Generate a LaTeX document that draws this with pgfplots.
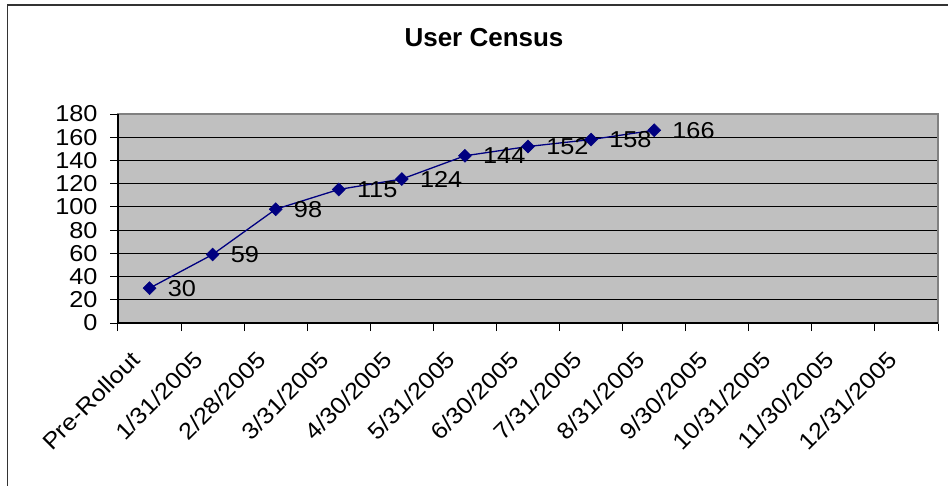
\documentclass[border=0pt]{standalone}
\usepackage{fontspec}
\setmainfont{Liberation Sans}[FakeStretch=1.1]
\newfontfamily\titlefont{Liberation Sans}
\usepackage{pgfplots}
\pgfplotsset{compat=1.18}
\definecolor{plotgray}{HTML}{C0C0C0}
\definecolor{bordergray}{HTML}{808080}
\definecolor{navyblue}{HTML}{000080}

\begin{document}
\begin{tikzpicture}
\useasboundingbox (0pt,0pt) rectangle (948pt,485pt);
\fill[white] (0pt,0pt) rectangle (948pt,485pt);
\draw[line width=1.5pt, black!80] (7.5pt,-5pt) -- (7.5pt,480pt) -- (960pt,480pt);
\node[font=\titlefont\bfseries\fontsize{26}{30}\selectfont] at (484pt,447pt) {User Census};
\begin{axis}[
  at={(118pt,162pt)}, anchor=south west,
  scale only axis, width=820pt, height=209pt,
  xmin=0, xmax=13, ymin=0, ymax=180,
  axis background/.style={fill=plotgray},
  axis line style={draw=bordergray, line width=1.5pt},
  ymajorgrids=true,
  major grid style={black, line width=0.8pt},
  tick align=outside,
  tick pos=left,
  major tick length=8pt,
  tick style={black, line width=1pt},
  xtick={0,1,...,13},
  xticklabels={,,,,,,,,,,,,,},
  ytick={0,20,...,180},
  /pgf/number format/assume math mode=true,
  tick label style={font=\fontsize{23}{27}\selectfont},
  yticklabel style={xshift=-9pt},
  extra x ticks={0.5,1.5,2.5,3.5,4.5,5.5,6.5,7.5,8.5,9.5,10.5,11.5,12.5},
  extra x tick labels={Pre-Rollout,1/31/2005,2/28/2005,3/31/2005,4/30/2005,5/31/2005,6/30/2005,7/31/2005,8/31/2005,9/30/2005,10/31/2005,11/30/2005,12/31/2005},
  extra x tick style={major tick length=0pt, grid=none,
    tick label style={rotate=45, anchor=north east, inner sep=0pt, xshift=-33pt, yshift=-5pt}},
  clip=false,
]
\addplot[navyblue, line width=1.3pt, mark=square*, mark size=4.6pt,
  mark options={rotate=45, fill=navyblue, solid, line width=0.5pt},
  nodes near coords,
  every node near coord/.append style={anchor=west, xshift=18pt, text=black, inner sep=0pt, font=\fontsize{23}{27}\selectfont}]
  coordinates {(0.5,30) (1.5,59) (2.5,98) (3.5,115) (4.5,124) (5.5,144) (6.5,152) (7.5,158) (8.5,166)};
\draw[black, line width=1.2pt] (rel axis cs:0,1) -- (rel axis cs:0,0) -- (rel axis cs:1,0);
\end{axis}
\end{tikzpicture}
\end{document}
